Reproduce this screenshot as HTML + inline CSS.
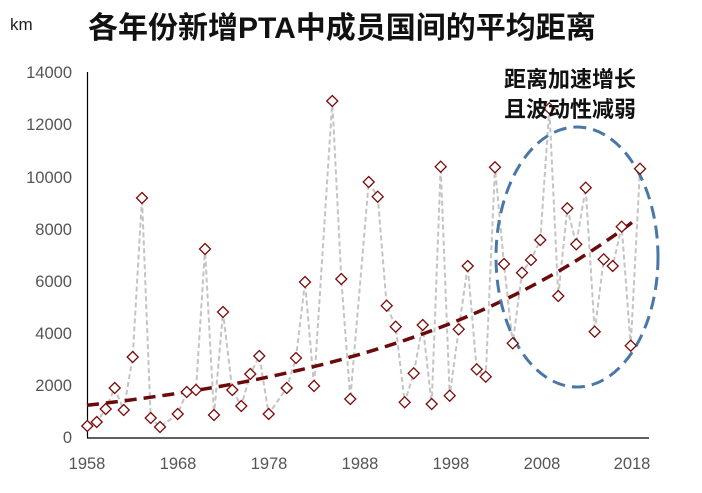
<!DOCTYPE html>
<html><head><meta charset="utf-8"><style>
body{margin:0;background:#fff;}
svg text{font-family:"Liberation Sans","Noto Sans CJK SC",sans-serif;}
</style></head><body>
<svg width="702" height="488" viewBox="0 0 702 488" xmlns="http://www.w3.org/2000/svg">
<text x="10" y="30" font-size="17" fill="#222">km</text>
<text x="88" y="38" font-size="30" font-weight="bold" fill="#111">各年份新增PTA中成员国间的平均距离</text>
<g font-size="16.5" fill="#555" text-anchor="end">
<text x="72" y="443">0</text><text x="72" y="391">2000</text><text x="72" y="339">4000</text>
<text x="72" y="287">6000</text><text x="72" y="235">8000</text><text x="72" y="183">10000</text>
<text x="72" y="130">12000</text><text x="72" y="78">14000</text></g>
<g font-size="16.5" fill="#555" text-anchor="middle">
<text x="87" y="469">1958</text><text x="178" y="469">1968</text><text x="269" y="469">1978</text>
<text x="360" y="469">1988</text><text x="451" y="469">1998</text><text x="542" y="469">2008</text>
<text x="632" y="469">2018</text></g>
<line x1="87.5" y1="72" x2="87.5" y2="438" stroke="#000" stroke-width="1.2"/>
<line x1="87" y1="438" x2="649" y2="438" stroke="#000" stroke-width="1.2"/>
<polyline fill="none" stroke="#c4c4c4" stroke-width="2" stroke-dasharray="5,3" points="87.3,426 96.7,422 105.7,409 114.7,388 123.7,410 132.7,357 142,198 150.7,418 160,427 177.7,414 186.7,392 196,390 205,249 214,415 223,312 232.3,390 241.3,406 250.3,374 259.3,356 268.7,414 286.7,388 296,358 305,282 314,386 332.3,101 341.3,279 350.3,399 368.7,182 377.7,196.7 386.7,305.7 395.7,326.7 404.7,402.3 413.7,373.3 422.7,325 431.7,404 440.7,166.7 449.7,395.7 458.7,329.3 467.7,266 476.7,369.3 485.7,376.7 495,167.3 504,264 512.7,343.3 522,272.7 531,260 540.3,240 549.3,108.3 558.3,296 567.3,208.3 576.3,244.3 585.7,187.7 594.7,331.7 603.7,259.3 612.7,266 621.7,226.7 630.7,345.7 640,168.7"/>
<path id="tr" fill="none" stroke="#6b0a0a" stroke-width="3.5" stroke-dasharray="12,7" d=""/>
<ellipse cx="577" cy="257" rx="81" ry="130" fill="none" stroke="#4a78a6" stroke-width="3" stroke-dasharray="13,7"/>
<g id="pts" fill="#fff" stroke="#7a0c0c" stroke-width="1.3"></g>
<text x="570" y="87" font-size="22" font-weight="bold" fill="#111" text-anchor="middle">距离加速增长</text>
<text x="570" y="117" font-size="22" font-weight="bold" fill="#111" text-anchor="middle">且波动性减弱</text>
</svg>
<script>
var pts="87.3,426 96.7,422 105.7,409 114.7,388 123.7,410 132.7,357 142,198 150.7,418 160,427 177.7,414 186.7,392 196,390 205,249 214,415 223,312 232.3,390 241.3,406 250.3,374 259.3,356 268.7,414 286.7,388 296,358 305,282 314,386 332.3,101 341.3,279 350.3,399 368.7,182 377.7,196.7 386.7,305.7 395.7,326.7 404.7,402.3 413.7,373.3 422.7,325 431.7,404 440.7,166.7 449.7,395.7 458.7,329.3 467.7,266 476.7,369.3 485.7,376.7 495,167.3 504,264 512.7,343.3 522,272.7 531,260 540.3,240 549.3,108.3 558.3,296 567.3,208.3 576.3,244.3 585.7,187.7 594.7,331.7 603.7,259.3 612.7,266 621.7,226.7 630.7,345.7 640,168.7".split(" ");
var g=document.getElementById("pts"),s="";
pts.forEach(function(p){var a=p.split(","),x=+a[0],y=+a[1];s+='<path d="M'+x+','+(y-5.5)+'L'+(x+5.5)+','+y+'L'+x+','+(y+5.5)+'L'+(x-5.5)+','+y+'Z"/>';});
g.innerHTML=s;
var d="";for(var i=0;i<=60;i++){var x=87+547*i/60,v=1220*Math.pow(6.79,i/60),y=437-v*0.02607;d+=(i?"L":"M")+x.toFixed(1)+","+y.toFixed(1);}
document.getElementById("tr").setAttribute("d",d);
</script>
</body></html>
